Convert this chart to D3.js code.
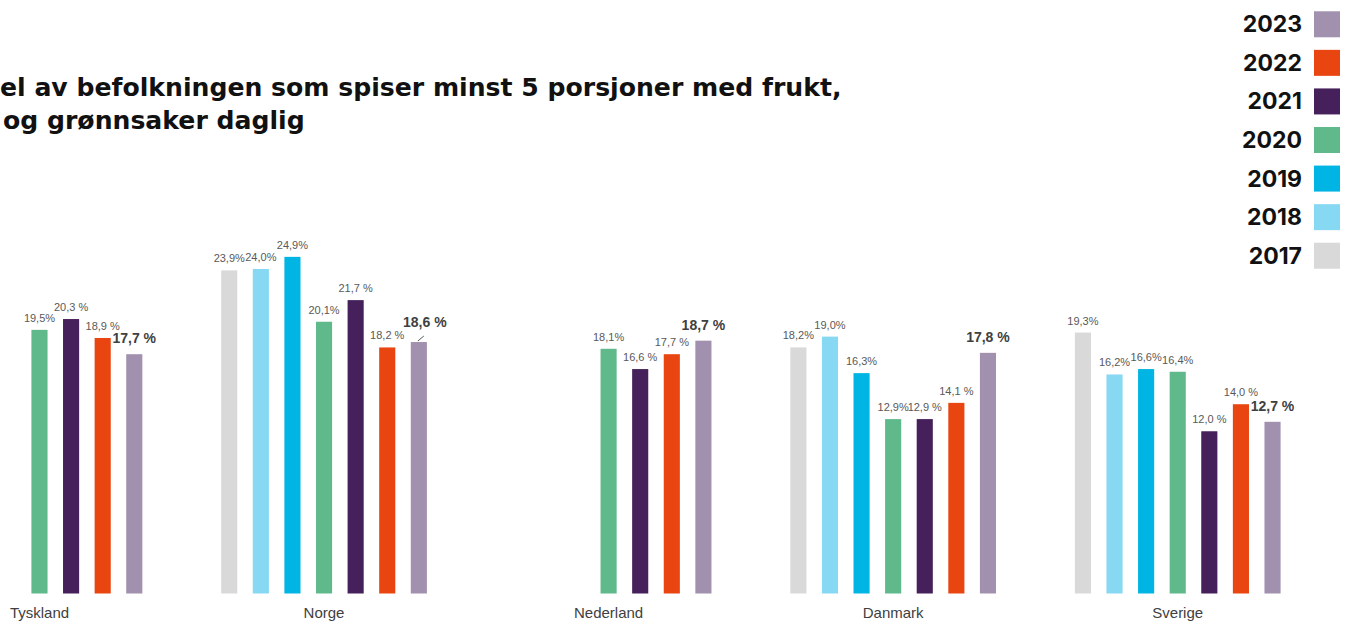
<!DOCTYPE html>
<html>
<head>
<meta charset="utf-8">
<script src="https://cdn.jsdelivr.net/npm/d3@7"></script>
<style>
  body { margin: 0; background: #fff; }
  svg { display: block; }
</style>
</head>
<body>
<div id="main"></div>
<script>
const w = 1352;
const h = 621;

// data
const years = ["2017", "2018", "2019", "2020", "2021", "2022", "2023"];
const countries = ["Tyskland", "Norge", "Nederland", "Danmark", "Sverige"];
const tyskland  = [null, null, null, 19.5, 20.3, 18.9, 17.7];
const norge     = [23.9, 24.0, 24.9, 20.1, 21.7, 18.2, 18.6];
const nederland = [null, null, null, 18.1, 16.6, 17.7, 18.7];
const danmark   = [18.2, 19.0, 16.3, 12.9, 12.9, 14.1, 17.8];
const sverige   = [19.3, 16.2, 16.6, 16.4, 12.0, 14.0, 12.7];
const colors = ["#d9d9d9", "#87d8f3", "#00b5e3", "#5fb98a", "#46205a", "#e84511", "#a291ae"];

const values = [tyskland, norge, nederland, danmark, sverige];

const rows = [];
countries.forEach((c, i) => {
  years.forEach((y, j) => {
    if (values[i][j] != null) rows.push({country: c, year: y, value: values[i][j]});
  });
});

const svg = d3.select("#main")
  .append("svg")
  .attr("width", w)
  .attr("height", h);

const x0 = d3.scaleBand()
  .domain(countries)
  .range([-102.8, 1320]);

const x1 = d3.scaleBand()
  .domain(years)
  .range([-110.6, 110.6])
  .paddingInner(0.49)
  .paddingOuter(0.245);

const y = d3.scaleLinear()
  .domain([0, 25])
  .range([593.5, 255.5]);

const color = d3.scaleOrdinal().domain(years).range(colors);

// label formatting: older years without space before %
const fmt = (d) => {
  const s = d.value.toFixed(1).replace(".", ",");
  return (+d.year <= 2020) ? s + "%" : s + " %";
};

const gx = (d) => x0(d.country) + x0.bandwidth() / 2 + x1(d.year);

svg.selectAll("rect.bar")
  .data(rows)
  .enter()
  .append("rect")
  .attr("class", "bar")
  .attr("x", gx)
  .attr("y", (d) => y(d.value))
  .attr("width", x1.bandwidth())
  .attr("height", (d) => y(0) - y(d.value))
  .attr("fill", (d) => color(d.year));

// value labels
svg.selectAll("text.val")
  .data(rows.filter((d) => d.year != "2023"))
  .enter()
  .append("text")
  .attr("class", "val")
  .attr("x", (d) => gx(d) + x1.bandwidth() / 2)
  .attr("y", (d) => y(d.value) - 8)
  .attr("text-anchor", "middle")
  .style("font-family", "'Liberation Sans', Arial, sans-serif")
  .style("font-size", "11px")
  .style("fill", "#595959")
  .text(fmt);

// 2023 labels, Norge one nudged with a leader line
const nudge = {Norge: [6, -4]};
const last = rows.filter((d) => d.year == "2023");

svg.selectAll("text.last")
  .data(last)
  .enter()
  .append("text")
  .attr("class", "last")
  .attr("x", (d) => gx(d) + x1.bandwidth() / 2 + (nudge[d.country] ? nudge[d.country][0] : 0))
  .attr("y", (d) => y(d.value) - 11 + (nudge[d.country] ? nudge[d.country][1] : 0))
  .attr("text-anchor", "middle")
  .style("font-family", "'Liberation Sans', Arial, sans-serif")
  .style("font-size", "14px")
  .style("font-weight", "bold")
  .style("fill", "#404040")
  .text(fmt);

svg.selectAll("line.leader")
  .data(last.filter((d) => nudge[d.country]))
  .enter()
  .append("line")
  .attr("x1", (d) => gx(d) + x1.bandwidth() / 2 - 1)
  .attr("y1", (d) => y(d.value) - 1)
  .attr("x2", (d) => gx(d) + x1.bandwidth() / 2 + 5)
  .attr("y2", (d) => y(d.value) - 6)
  .style("stroke", "#595959")
  .style("stroke-width", 1);

// category labels
svg.selectAll("text.cat")
  .data(countries)
  .enter()
  .append("text")
  .attr("class", "cat")
  .attr("x", (d) => x0(d) + x0.bandwidth() / 2)
  .attr("y", 618)
  .attr("text-anchor", "middle")
  .style("font-family", "'Liberation Sans', Arial, sans-serif")
  .style("font-size", "15px")
  .style("fill", "#404040")
  .text((d) => d);

// title (cut off at the left edge, like the source)
const titleFont = "'DejaVu Sans', sans-serif";
const titleLines = ["Andel av befolkningen som spiser minst 5 porsjoner med frukt,", "bær og grønnsaker daglig"];

function measure(str, size) {
  const p = svg.append("text")
    .style("font-family", titleFont)
    .style("font-size", size + "px")
    .style("font-weight", "bold")
    .text(str);
  const l = p.node().getComputedTextLength();
  p.remove();
  return l;
}

// fit: visible part of line 1 ("el av ... frukt,") spans 0..842
let tSize = 25;
tSize = tSize * 842 / (measure(titleLines[0], 25) - measure("And", 25));

const tx = [-measure("And", tSize), 3 - (measure("bær og", tSize) - measure("og", tSize))];
const tyPos = [96, 129];

svg.selectAll("text.title")
  .data(titleLines)
  .enter()
  .append("text")
  .attr("class", "title")
  .attr("x", (d, i) => tx[i])
  .attr("y", (d, i) => tyPos[i])
  .style("font-family", titleFont)
  .style("font-size", tSize + "px")
  .style("font-weight", "bold")
  .style("fill", "#111")
  .text((d) => d);

// legend
const legendYears = years.slice().reverse();
const ly = d3.scaleBand()
  .domain(legendYears)
  .range([5, 275]);

const legend = svg.append("g").attr("id", "legend");

legend.selectAll("rect")
  .data(legendYears)
  .enter()
  .append("rect")
  .attr("x", 1314)
  .attr("y", (d) => ly(d) + ly.bandwidth() / 2 - 13)
  .attr("width", 26)
  .attr("height", 26)
  .attr("fill", (d) => color(d));

legend.selectAll("text")
  .data(legendYears)
  .enter()
  .append("text")
  .attr("x", 1302)
  .attr("y", (d) => ly(d) + ly.bandwidth() / 2 + 8)
  .attr("text-anchor", "end")
  .style("font-family", "Inter, sans-serif")
  .style("font-size", "23px")
  .style("font-weight", "bold")
  .style("fill", "#111")
  .text((d) => d);
</script>
</body>
</html>
